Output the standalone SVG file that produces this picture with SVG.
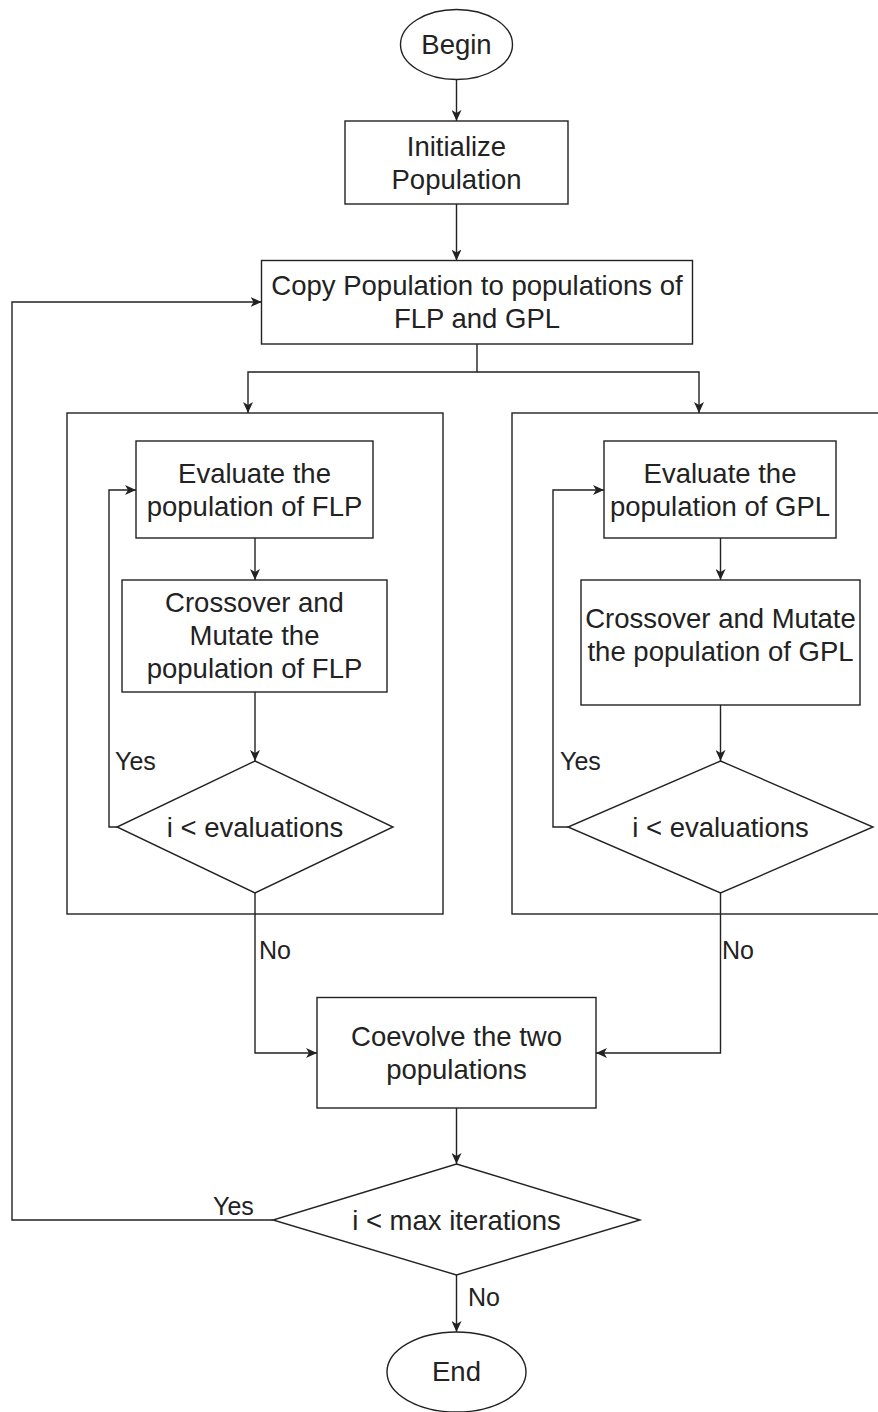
<svg xmlns="http://www.w3.org/2000/svg" width="878" height="1412" viewBox="0 0 878 1412">
  <style>
    .shape { fill: #ffffff; stroke: #222222; stroke-width: 1.4; }
    .frame { fill: none; stroke: #222222; stroke-width: 1.4; }
    .edge { fill: none; stroke: #222222; stroke-width: 1.4; }
    .arrow { marker-end: url(#head); }
    .t { font-family: "Liberation Sans", Arial, sans-serif; font-size: 27.5px; fill: #222222; text-anchor: middle; }
    .lbl { font-family: "Liberation Sans", Arial, sans-serif; font-size: 25px; fill: #222222; }
  </style>
  <defs>
    <marker id="head" markerUnits="userSpaceOnUse" markerWidth="12" markerHeight="10" refX="11" refY="5" orient="auto">
      <path d="M0,0 L11,5 L0,10 L3,5 z" fill="#222222"/>
    </marker>
  </defs>

  <rect width="878" height="1412" fill="#ffffff"/>

  <!-- loop containers -->
  <g id="flp-container">
    <rect class="frame" x="67" y="413" width="376" height="501"/>
  </g>
  <g id="gpl-container">
    <rect class="frame" x="512" y="413" width="400" height="501"/>
  </g>

  <!-- connectors -->
  <g id="connectors">
    <path class="edge arrow" d="M456.5 79 V121"/>
    <path class="edge arrow" d="M456.5 204 V260.5"/>
    <path class="edge arrow" d="M477 344 V372 H248 V413"/>
    <path class="edge arrow" d="M477 372 H699 V413"/>

    <path class="edge arrow" d="M255 538 V580"/>
    <path class="edge arrow" d="M255 692 V761"/>
    <path class="edge arrow" d="M117 827 H109 V490 H136"/>
    <path class="edge arrow" d="M255 893 V1053 H317"/>

    <path class="edge arrow" d="M720.5 538 V580"/>
    <path class="edge arrow" d="M720.5 705 V761"/>
    <path class="edge arrow" d="M568 827 H553 V490 H604"/>
    <path class="edge arrow" d="M720.5 893 V1053 H596"/>

    <path class="edge arrow" d="M456.5 1108 V1164"/>
    <path class="edge arrow" d="M273 1220 H12 V302 H261.5"/>
    <path class="edge arrow" d="M456.5 1275 V1332"/>

    <text class="lbl" x="115" y="770">Yes</text>
    <text class="lbl" x="560" y="770">Yes</text>
    <text class="lbl" x="259" y="959">No</text>
    <text class="lbl" x="722" y="959">No</text>
    <text class="lbl" x="213" y="1215">Yes</text>
    <text class="lbl" x="468" y="1306">No</text>
  </g>

  <!-- nodes -->
  <g id="begin">
    <ellipse class="shape" cx="456.5" cy="44.5" rx="56" ry="35"/>
    <text class="t" x="456.5" y="54">Begin</text>
  </g>

  <g id="initialize">
    <rect class="shape" x="345" y="121" width="223" height="83"/>
    <text class="t" x="456.5" y="156">Initialize</text>
    <text class="t" x="456.5" y="189">Population</text>
  </g>

  <g id="copy">
    <rect class="shape" x="261.5" y="260.5" width="431" height="83.5"/>
    <text class="t" x="477" y="295">Copy Population to populations of</text>
    <text class="t" x="477" y="328">FLP and GPL</text>
  </g>

  <g id="eval-flp">
    <rect class="shape" x="136" y="441" width="237" height="97"/>
    <text class="t" x="254.5" y="483">Evaluate the</text>
    <text class="t" x="254.5" y="516">population of FLP</text>
  </g>

  <g id="cross-flp">
    <rect class="shape" x="122" y="580" width="265" height="112"/>
    <text class="t" x="254.5" y="612">Crossover and</text>
    <text class="t" x="254.5" y="645">Mutate the</text>
    <text class="t" x="254.5" y="678">population of FLP</text>
  </g>

  <g id="check-flp">
    <polygon class="shape" points="255,761 393,827 255,893 117,827"/>
    <text class="t" x="255" y="837">i &lt; evaluations</text>
  </g>

  <g id="eval-gpl">
    <rect class="shape" x="604" y="441" width="232" height="97"/>
    <text class="t" x="720" y="483">Evaluate the</text>
    <text class="t" x="720" y="516">population of GPL</text>
  </g>

  <g id="cross-gpl">
    <rect class="shape" x="581" y="580" width="279" height="125"/>
    <text class="t" x="720.5" y="628">Crossover and Mutate</text>
    <text class="t" x="720.5" y="661">the population of GPL</text>
  </g>

  <g id="check-gpl">
    <polygon class="shape" points="720.5,761 873,827 720.5,893 568,827"/>
    <text class="t" x="720.5" y="837">i &lt; evaluations</text>
  </g>

  <g id="coevolve">
    <rect class="shape" x="317" y="997.5" width="279" height="110.5"/>
    <text class="t" x="456.5" y="1046">Coevolve the two</text>
    <text class="t" x="456.5" y="1079">populations</text>
  </g>

  <g id="check-iterations">
    <polygon class="shape" points="456.5,1164 640,1220 456.5,1275 273,1220"/>
    <text class="t" x="456.5" y="1230">i &lt; max iterations</text>
  </g>

  <g id="end">
    <ellipse class="shape" cx="456.5" cy="1372" rx="69.5" ry="40"/>
    <text class="t" x="456.5" y="1381">End</text>
  </g>
</svg>
